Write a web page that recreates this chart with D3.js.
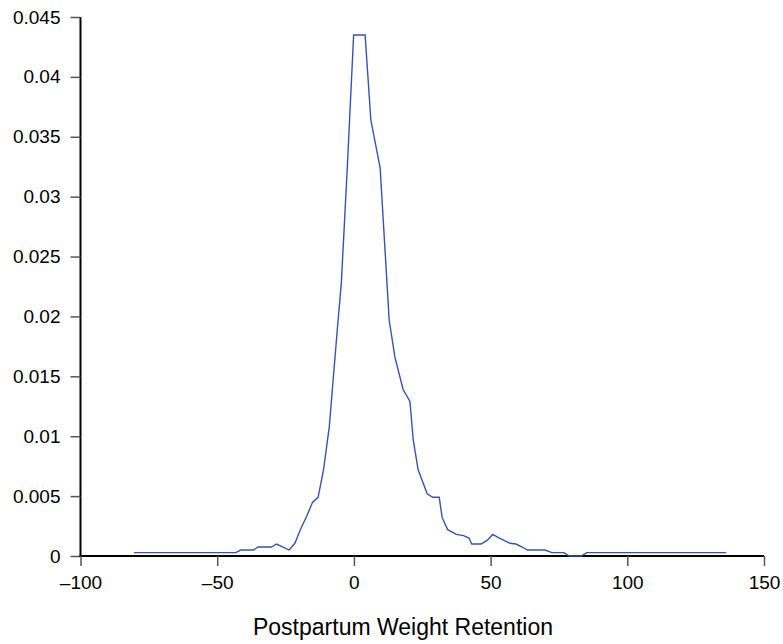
<!DOCTYPE html>
<html>
<head>
<meta charset="utf-8">
<script src="https://cdn.jsdelivr.net/npm/d3@7"></script>
<style>
body { margin: 0; background: #fff; }
svg { display: block; font-family: "Liberation Sans", Arial, sans-serif; }
</style>
</head>
<body>
<svg id="chart" width="783" height="644"></svg>
<script>
const xValues = [-80.4, -43.2, -41.4, -36.7, -35.0, -30.1, -28.3, -23.7, -21.6, -19.4, -17.3, -15.1, -13.1, -11.1, -9.0, -7.2, -6.0, -4.6, -2.4, -0.1, 4.1, 6.2, 9.6, 12.9, 15.0, 18.0, 20.5, 21.7, 23.5, 26.8, 28.8, 31.2, 32.3, 34.3, 37.5, 40.1, 42.1, 43.1, 46.5, 48.7, 50.8, 53.2, 57.1, 59.3, 61.7, 63.5, 69.9, 72.4, 76.8, 78.8, 83.1, 85.2, 136.2];
const densityValues = [0.00028, 0.00028, 0.0005, 0.0005, 0.00075, 0.00075, 0.001, 0.0005, 0.00106, 0.0023, 0.0033, 0.0045, 0.0049, 0.0072, 0.0108, 0.0158, 0.0191, 0.0228, 0.0325, 0.0435, 0.0435, 0.0364, 0.0324, 0.0197, 0.0166, 0.0139, 0.0129, 0.0097, 0.0072, 0.0052, 0.0049, 0.0049, 0.0032, 0.0022, 0.0018, 0.0017, 0.0015, 0.001, 0.001, 0.0013, 0.0018, 0.0015, 0.00106, 0.001, 0.00073, 0.0005, 0.0005, 0.00028, 0.00028, 0, 0, 0.00028, 0.00028];
const xTicks = [-100, -50, 0, 50, 100, 150];
const xTickLabels = ["\u2013100", "\u201350", "0", "50", "100", "150"];
const yTicks = [0, 0.005, 0.01, 0.015, 0.02, 0.025, 0.03, 0.035, 0.04, 0.045];
const yTickLabels = ["0", "0.005", "0.01", "0.015", "0.02", "0.025", "0.03", "0.035", "0.04", "0.045"];
const xTitle = "Postpartum Weight Retention";

const svg = d3.select("#chart");
const mLeft = 80.5, mRight = 764, mTop = 17, mBottom = 556;

const x = d3.scaleLinear().domain([-100, 150]).range([mLeft, mRight]);
const y = d3.scaleLinear().domain([0, 0.045]).range([mBottom, mTop]);

const data = xValues.map((v, i) => ({x: v, y: densityValues[i]}));

// y axis
const yAxis = svg.append("g").attr("transform", `translate(${mLeft},0)`)
  .call(d3.axisLeft(y).tickValues(yTicks).tickSize(10).tickPadding(10)
    .tickFormat((d, i) => yTickLabels[i]));
yAxis.select(".domain").attr("stroke", "#000").attr("stroke-width", 2)
  .attr("d", `M0,${mTop}V${mBottom}`);
yAxis.selectAll(".tick line").attr("stroke", "#555").attr("stroke-width", 1.5);
yAxis.selectAll(".tick text").attr("font-size", 19).attr("fill", "#000")
  .attr("font-family", "'Liberation Sans', Arial, sans-serif");

// x axis
const xAxis = svg.append("g").attr("transform", `translate(0,${mBottom})`)
  .call(d3.axisBottom(x).tickValues(xTicks).tickSize(10).tickPadding(10)
    .tickFormat((d, i) => xTickLabels[i]));
xAxis.select(".domain").attr("stroke", "#000").attr("stroke-width", 2)
  .attr("d", `M${mLeft - 1},0H${mRight}`);
xAxis.selectAll(".tick line").attr("stroke", "#555").attr("stroke-width", 1.5);
xAxis.selectAll(".tick text").attr("font-size", 19).attr("fill", "#000")
  .attr("font-family", "'Liberation Sans', Arial, sans-serif");

// line
const line = d3.line().x(d => x(d.x)).y(d => y(d.y));
svg.append("path").datum(data)
  .attr("d", line)
  .attr("fill", "none")
  .attr("stroke", "#3753b1")
  .attr("stroke-width", 1.4)
  .attr("stroke-linejoin", "miter");

// x title
svg.append("text")
  .attr("x", 403).attr("y", 635)
  .attr("text-anchor", "middle")
  .attr("font-size", 23)
  .attr("fill", "#000")
  .text(xTitle);
</script>
</body>
</html>
